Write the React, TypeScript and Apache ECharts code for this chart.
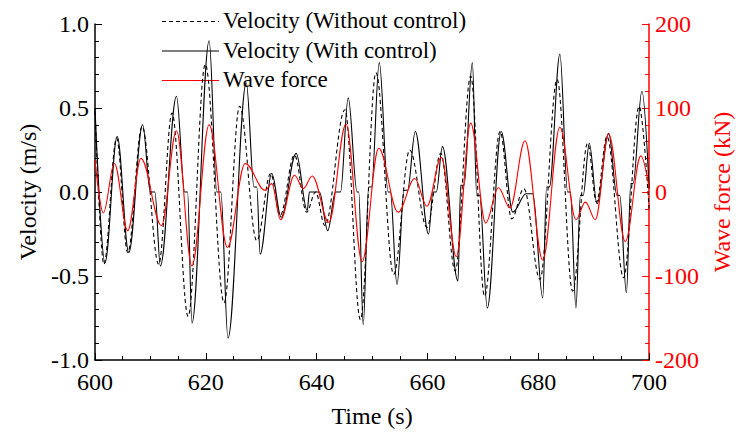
import React, { useEffect, useRef } from "react";
import * as echarts from "echarts";

// Time axis ticks
const xTicks = [600, 620, 640, 660, 680, 700];

// Velocity without control (dashed) — extrema
const dashT = [600.0, 601.6, 603.9, 605.9, 608.5, 611.5, 613.9, 616.8, 619.9, 623.3, 626.1, 629.2, 631.7, 633.4, 636.0, 638.2, 639.8, 641.5, 645.1, 647.9, 650.7, 653.9, 656.8, 659.9, 662.4, 665.0, 667.8, 670.3, 673.1, 675.2, 677.4, 680.3, 683.4, 686.2, 688.9, 690.5, 692.4, 695.4, 698.2, 700.0];
const dashV = [0.48, -0.43, 0.32, -0.36, 0.39, -0.43, 0.47, -0.74, 0.76, -0.66, 0.51, -0.29, 0.11, -0.14, 0.22, -0.12, 0.0, -0.2, 0.49, -0.76, 0.71, -0.49, 0.25, -0.21, 0.23, -0.47, 0.69, -0.62, 0.36, -0.16, 0.02, -0.52, 0.67, -0.59, 0.29, -0.06, 0.33, -0.51, 0.51, -0.1];

// Velocity with control (solid) — extrema and latching holds
const solidT = [600.0, 601.8, 604.0, 606.1, 608.6, 610.0, 610.8, 611.8, 614.7, 616.2, 616.7, 617.5, 620.6, 622.0, 622.7, 624.0, 627.3, 628.7, 629.2, 629.8, 631.9, 633.6, 636.3, 638.3, 638.7, 640.5, 642.0, 643.4, 644.3, 645.7, 647.3, 647.6, 648.4, 649.4, 649.9, 651.3, 652.9, 653.3, 654.5, 655.8, 656.4, 657.8, 660.2, 661.0, 661.6, 662.7, 665.5, 666.0, 666.6, 668.1, 668.9, 669.4, 670.8, 673.3, 675.4, 677.8, 679.0, 680.8, 681.5, 682.0, 683.9, 685.3, 685.8, 686.8, 687.6, 688.1, 689.2, 690.6, 692.7, 694.2, 694.7, 695.9, 696.7, 697.1, 698.7, 700.0];
const solidV = [0.5, -0.42, 0.33, -0.36, 0.4, 0.0, 0.0, -0.44, 0.57, 0.0, 0.0, -0.78, 0.9, 0.0, 0.0, -0.87, 0.65, 0.03, 0.03, -0.37, 0.11, -0.15, 0.23, -0.11, 0.0, 0.0, -0.23, 0.0, 0.0, 0.56, 0.0, 0.0, -0.79, 0.03, 0.03, 0.77, 0.0, 0.0, -0.55, 0.01, 0.01, 0.36, -0.25, 0.0, 0.0, 0.27, -0.53, 0.04, 0.04, 0.77, -0.02, -0.02, -0.69, 0.36, -0.12, -0.01, -0.01, -0.63, 0.03, 0.03, 0.82, 0.0, 0.0, -0.69, -0.02, -0.02, 0.29, -0.07, 0.35, -0.02, -0.02, -0.6, 0.05, 0.05, 0.6, 0.02];

// Wave force (kN)
const forceT = [600.0, 601.5, 603.5, 605.9, 608.3, 612.0, 614.7, 617.5, 620.6, 623.9, 627.1, 630.7, 631.9, 633.5, 636.0, 637.6, 639.2, 642.2, 645.3, 648.2, 651.2, 654.7, 657.7, 659.9, 662.5, 665.2, 667.8, 670.5, 672.8, 674.9, 677.6, 680.8, 683.9, 686.8, 688.5, 690.3, 692.7, 695.7, 698.5, 700.0];
const forceV = [38, -25, 34, -46, 40, -40, 73, -88, 80, -66, 34, 2, 10, -33, 20, 4, 19, -36, 81, -83, 52, -24, 16, -17, 41, -77, 82, -37, 5, -19, 61, -81, 77, -33, -12, -33, 69, -59, 43, 5];

const seriesNames = ["Velocity (Without control)", "Velocity (With control)", "Wave force"];
const seriesColors = ["#000000", "#000000", "#ff0000"];
const seriesDashed = [true, false, false];

const FONT = "'Liberation Serif', 'Times New Roman', serif";

function pairs(t: number[], v: number[]) {
  return t.map((x, i) => [x, v[i]]);
}

export default function App() {
  const ref = useRef<HTMLDivElement>(null);
  useEffect(() => {
    if (!ref.current) return;
    const chart = echarts.init(ref.current, undefined, { renderer: "svg" });
    const axisLabelBlack = { color: "#000", fontFamily: FONT, fontSize: 24 };

    const legendItems: any[] = [];
    seriesNames.forEach((name, i) => {
      const y = 21.5 + i * 29.5;
      legendItems.push({
        type: "line",
        shape: { x1: 162, y1: y, x2: 219, y2: y },
        style: {
          stroke: seriesColors[i],
          lineWidth: 1.1,
          lineDash: seriesDashed[i] ? [4, 3] : null,
        },
      });
      legendItems.push({
        type: "text",
        x: 223,
        y: y - 1,
        style: {
          text: name,
          fill: "#000",
          font: `23px ${FONT}`,
          textVerticalAlign: "middle",
          verticalAlign: "middle",
        },
      });
    });

    chart.setOption({
      animation: false,
      backgroundColor: "#fff",
      grid: { left: 95, right: 82, top: 24, bottom: 74 },
      graphic: legendItems,
      xAxis: {
        type: "value",
        min: xTicks[0],
        max: xTicks[xTicks.length - 1],
        interval: 20,
        name: "Time (s)",
        nameLocation: "middle",
        nameGap: 44,
        nameTextStyle: { fontFamily: FONT, fontSize: 24, color: "#000" },
        axisLine: { onZero: false, lineStyle: { color: "#000", width: 1.5 } },
        axisTick: { inside: true, length: 7, lineStyle: { color: "#000" } },
        minorTick: { show: true, splitNumber: 4, length: 4, lineStyle: { color: "#000" } },
        axisLabel: { ...axisLabelBlack, margin: 10 },
        splitLine: { show: false },
      },
      yAxis: [
        {
          type: "value",
          min: -1,
          max: 1,
          interval: 0.5,
          name: "Velocity (m/s)",
          nameLocation: "middle",
          nameRotate: 90,
          nameGap: 54,
          nameTextStyle: { fontFamily: FONT, fontSize: 24, color: "#000" },
          axisLine: { show: true, onZero: false, lineStyle: { color: "#000", width: 1.5 } },
          axisTick: { show: true, inside: true, length: 7, lineStyle: { color: "#000" } },
          minorTick: { show: true, splitNumber: 5, length: 4, lineStyle: { color: "#000" } },
          axisLabel: { ...axisLabelBlack, margin: 6, formatter: (v: number) => v.toFixed(1) },
          splitLine: { show: false },
        },
        {
          type: "value",
          min: -200,
          max: 200,
          interval: 100,
          position: "right",
          name: "Wave force (kN)",
          nameLocation: "middle",
          nameRotate: 90,
          nameGap: 45,
          nameTextStyle: { fontFamily: FONT, fontSize: 24, color: "#ff0000" },
          axisLine: { show: true, onZero: false, lineStyle: { color: "#ff0000", width: 1.5 } },
          axisTick: { show: true, inside: true, length: 7, lineStyle: { color: "#ff0000" } },
          minorTick: { show: true, splitNumber: 5, length: 4, lineStyle: { color: "#ff0000" } },
          axisLabel: { color: "#ff0000", fontFamily: FONT, fontSize: 24, margin: 6 },
          splitLine: { show: false },
        },
      ],
      series: [
        {
          name: seriesNames[0],
          type: "line",
          yAxisIndex: 0,
          data: pairs(dashT, dashV),
          symbol: "none",
          showSymbol: false,
          smooth: 0.36,
          smoothMonotone: "x",
          lineStyle: { color: seriesColors[0], width: 1.1, type: [4, 3] },
        },
        {
          name: seriesNames[1],
          type: "line",
          yAxisIndex: 0,
          data: pairs(solidT, solidV),
          symbol: "none",
          showSymbol: false,
          smooth: 0.36,
          smoothMonotone: "x",
          lineStyle: { color: seriesColors[1], width: 1.1 },
        },
        {
          name: seriesNames[2],
          type: "line",
          yAxisIndex: 1,
          data: pairs(forceT, forceV),
          symbol: "none",
          showSymbol: false,
          smooth: 0.36,
          smoothMonotone: "x",
          lineStyle: { color: seriesColors[2], width: 1.1 },
        },
      ],
    });
    return () => chart.dispose();
  }, []);
  return (
    <div
      ref={ref}
      style={{ position: "fixed", left: 0, top: 0, width: 742, height: 434, background: "#fff" }}
    />
  );
}
